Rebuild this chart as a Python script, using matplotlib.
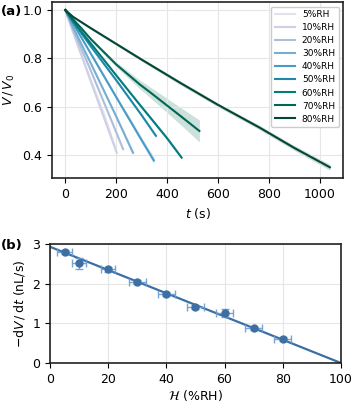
import matplotlib
matplotlib.use("Agg")
import matplotlib.pyplot as plt
import numpy as np

# (a) normalised volume vs time, one curve per humidity
rh_labels = ['5%RH', '10%RH', '20%RH', '30%RH', '40%RH', '50%RH', '60%RH', '70%RH', '80%RH']
t_data = [
    [0, 30, 100, 150, 195],
    [0, 30, 100, 150, 202],
    [0, 30, 100, 200, 227],
    [0, 30, 100, 200, 266],
    [0, 30, 100, 200, 300, 348],
    [0, 30, 100, 200, 300, 356],
    [0, 30, 100, 200, 293, 332, 400, 457],
    [0, 30, 60, 100, 200, 293, 332, 449, 527],
    [0, 30, 100, 200, 300, 450, 600, 762, 900, 1040],
]
v_data = [
    [1.0, 0.91, 0.71, 0.575, 0.435],
    [1.0, 0.91, 0.705, 0.56, 0.41],
    [1.0, 0.92, 0.75, 0.495, 0.425],
    [1.0, 0.93, 0.78, 0.56, 0.41],
    [1.0, 0.945, 0.82, 0.64, 0.462, 0.378],
    [1.0, 0.952, 0.85, 0.71, 0.565, 0.48],
    [1.0, 0.955, 0.862, 0.73, 0.608, 0.558, 0.47, 0.39],
    [1.0, 0.962, 0.928, 0.88, 0.775, 0.692, 0.661, 0.565, 0.50],
    [1.0, 0.972, 0.925, 0.86, 0.795, 0.70, 0.608, 0.515, 0.43, 0.35],
]
v_std = [
    [0.0, 0.003, 0.005, 0.006, 0.006],
    [0.0, 0.003, 0.005, 0.006, 0.006],
    [0.0, 0.003, 0.005, 0.006, 0.006],
    [0.0, 0.003, 0.005, 0.008, 0.01],
    [0.0, 0.003, 0.006, 0.009, 0.013, 0.016],
    [0.0, 0.003, 0.005, 0.006, 0.007, 0.007],
    [0.0, 0.003, 0.005, 0.006, 0.007, 0.007, 0.008, 0.008],
    [0.0, 0.003, 0.004, 0.006, 0.01, 0.018, 0.022, 0.035, 0.045],
    [0.0, 0.003, 0.005, 0.006, 0.007, 0.008, 0.008, 0.009, 0.01, 0.012],
]

# (b) evaporation rate vs humidity
rh = [5, 10, 20, 30, 40, 50, 60, 70, 80]
rate = [2.80, 2.52, 2.36, 2.05, 1.73, 1.40, 1.26, 0.87, 0.60]
rh_err = [2.5, 2.5, 2.5, 3, 3, 3, 3, 3, 3]
rate_err = [0.05, 0.14, 0.06, 0.05, 0.05, 0.05, 0.11, 0.05, 0.05]
fit_x = [0, 100]
fit_y = [2.93, 0.0]

plt.rcParams['font.size'] = 9
fig = plt.figure(figsize=(3.57, 4.04), dpi=100)
ax1 = fig.add_axes([0.146, 0.559, 0.815, 0.436])
ax2 = fig.add_axes([0.140, 0.1015, 0.815, 0.2945])

colors = plt.cm.PuBuGn(np.linspace(0.15, 1.0, len(rh_labels)))
for lab, t, v, s, c in zip(rh_labels, t_data, v_data, v_std, colors):
    t = np.array(t); v = np.array(v); s = np.array(s)
    ax1.fill_between(t, v - s, v + s, color=c, alpha=0.2, lw=0)
    ax1.plot(t, v, color=c, lw=1.5, label=lab)

ax1.set_xticks([0, 200, 400, 600, 800, 1000])
ax1.set_yticks([0.4, 0.6, 0.8, 1.0])
ax1.set_xlabel('$t$ (s)')
ax1.set_ylabel('$V\\,/\\,V_0$')
ax1.grid(color='#e6e6e6', lw=0.8)
ax1.legend(loc='upper right', fontsize=6.5, handlelength=2.2, labelspacing=0.45,
           borderpad=0.4, framealpha=1)

ax2.plot(fit_x, fit_y, color='#3a6fa6', lw=1.6, zorder=2)
ax2.errorbar(rh, rate, xerr=rh_err, yerr=rate_err, fmt='none',
             ecolor='#6b9bd2', elinewidth=1, capsize=3, alpha=0.9, zorder=3)
ax2.plot(rh, rate, 'o', color='#3d6fa3', ms=5, zorder=4)
ax2.set_xlim(0, 100)
ax2.set_ylim(0, 3)
ax2.set_xticks([0, 20, 40, 60, 80, 100])
ax2.set_yticks([0, 1, 2, 3])
ax2.set_xlabel('$\\mathcal{H}$ (%RH)', labelpad=1.5)
ax2.set_ylabel('$-\\mathrm{d}V\\,/\\,\\mathrm{d}t$ (nL/s)')
ax2.grid(color='#e6e6e6', lw=0.8)

for ax in (ax1, ax2):
    for sp in ax.spines.values():
        sp.set_linewidth(1.2)
        sp.set_color('#222222')

fig.text(0.003, 0.962, '(a)', fontweight='bold', fontsize=9.5)
fig.text(0.003, 0.384, '(b)', fontweight='bold', fontsize=9.5)

fig.savefig('out.png', dpi=100)
